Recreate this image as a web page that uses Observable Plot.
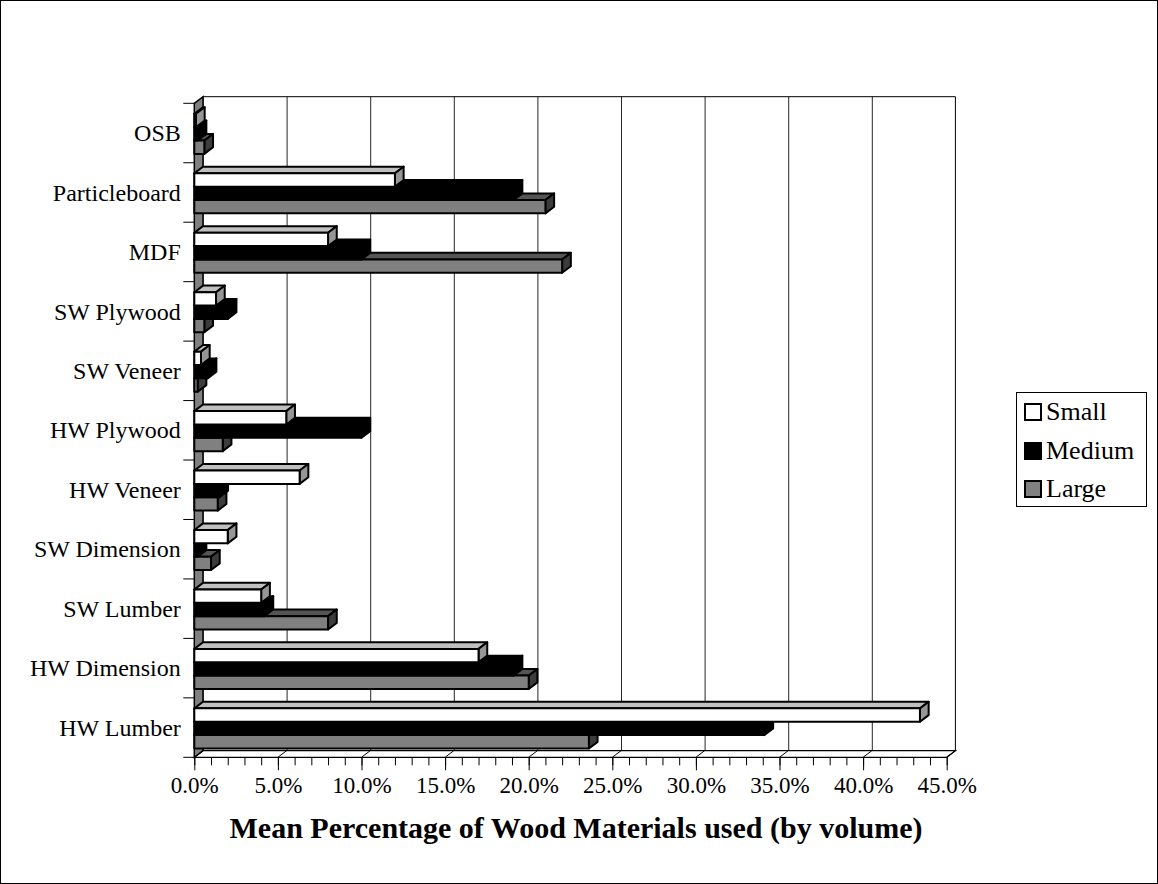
<!DOCTYPE html>
<html>
<head>
<meta charset="utf-8">
<script src="https://cdn.jsdelivr.net/npm/d3@7"></script>
<script src="https://cdn.jsdelivr.net/npm/@observablehq/plot@0.6"></script>
<style>
  html, body { margin: 0; padding: 0; background: #fff; }
  body { position: relative; width: 1158px; height: 884px; font-family: "Liberation Serif", "Times New Roman", serif; color: #000; }
  #border { position: absolute; left: 0; top: 0; width: 1158px; height: 884px; box-sizing: border-box; border: 1px solid #000; }
  #plot { position: absolute; left: 0; top: 0; }
  #legend { position: absolute; left: 1016px; top: 392px; width: 131px; height: 115px; box-sizing: border-box; border: 1px solid #000; background: #fff; }
  .item { position: absolute; left: 7px; height: 30px; display: flex; align-items: center; font-size: 26px; }
  .item svg { margin-right: 4px; }
  #title { position: absolute; left: 0; width: 1152px; top: 811px; text-align: center; font-weight: bold; font-size: 30px; }
</style>
</head>
<body>
<div id="border"></div>
<div id="plot"></div>
<div id="legend"></div>
<div id="title">Mean Percentage of Wood Materials used (by volume)</div>
<script>
// Wood material categories, listed top to bottom
const categories = ["OSB", "Particleboard", "MDF", "SW Plywood", "SW Veneer", "HW Plywood",
  "HW Veneer", "SW Dimension", "SW Lumber", "HW Dimension", "HW Lumber"];
// Mean percentage (by volume) per company size
const small  = [0.1, 12.0, 8.0, 1.3, 0.4, 5.5, 6.3, 2.0, 4.0, 17.0, 43.4];
const medium = [0.2, 19.1, 10.0, 2.0, 0.8, 10.0, 1.5, 0.2, 4.2, 19.1, 34.1];
const large  = [0.6, 21.0, 22.0, 0.6, 0.2, 1.7, 1.4, 1.0, 8.0, 20.0, 23.6];
const seriesNames = ["Small", "Medium", "Large"];
const xTicks = [0, 5, 10, 15, 20, 25, 30, 35, 40, 45];

// face colours of each 3-D bar: front, top, side
const faceColors = {
  Small:  {front: "#ffffff", top: "#c0c0c0", side: "#969696"},
  Medium: {front: "#000000", top: "#000000", side: "#000000"},
  Large:  {front: "#808080", top: "#555555", side: "#3c3c3c"}
};

// plot geometry (front plane) and depth offset of the back wall
const W = 1158, H = 800;
const X0 = 194.3, X1 = 946.7, Y0 = 103.3, Y1 = 757.3;
const DX = 8.7, DY = -6.6;
const BW = (Y1 - Y0) / categories.length;
const OFF = 0.177, BH = 0.2246; // bar offset and height as fractions of a band

const valuesBySeries = [small, medium, large];
const rows = seriesNames.flatMap((name, si) =>
  categories.map((c, i) => ({category: c, series: name, value: valuesBySeries[si][i], s: si})));

const pts = (a) => a.map(p => p.join(",")).join(" ");

// back wall, left wall, floor and category boundary ticks
function walls(index, scales) {
  const g = d3.create("svg:g");
  const xa = scales.x(0), xb = scales.x(45);
  g.append("polygon")
    .attr("points", pts([[xa + DX, Y0 + DY], [xb + DX, Y0 + DY], [xb + DX, Y1 + DY], [xa + DX, Y1 + DY]]))
    .attr("fill", "none").attr("stroke", "#000").attr("stroke-width", 1);
  g.append("polygon")
    .attr("points", pts([[xa, Y1], [xb, Y1], [xb + DX, Y1 + DY], [xa + DX, Y1 + DY]]))
    .attr("fill", "#fff").attr("stroke", "#000").attr("stroke-width", 1.3);
  for (const t of xTicks) {
    const x = scales.x(t);
    g.append("line").attr("x1", x).attr("y1", Y1).attr("x2", x + DX).attr("y2", Y1 + DY)
      .attr("stroke", "#000").attr("stroke-width", 1);
  }
  g.append("polygon")
    .attr("points", pts([[xa, Y0], [xa + DX, Y0 + DY], [xa + DX, Y1 + DY], [xa, Y1]]))
    .attr("fill", "#808080").attr("stroke", "#000").attr("stroke-width", 1.5);
  for (let i = 0; i <= categories.length; ++i) {
    const y = i < categories.length ? scales.y(categories[i]) : Y1;
    g.append("line").attr("x1", xa - 11).attr("x2", xa).attr("y1", y).attr("y2", y)
      .attr("stroke", "#000").attr("stroke-width", 1);
  }
  return g.node();
}

// top and side faces of the bars of one series
function faces(name) {
  const data = rows.filter(d => d.series === name);
  const col = faceColors[name];
  return (index, scales) => {
    const g = d3.create("svg:g").attr("stroke", "#000").attr("stroke-width", 2).attr("stroke-linejoin", "round");
    for (const r of data) {
      const xa = scales.x(0), xb = scales.x(r.value);
      const yt = scales.y(r.category) + BW * (OFF + r.s * BH);
      const yb = yt + BW * BH;
      g.append("polygon").attr("fill", col.top)
        .attr("points", pts([[xa, yt], [xa + DX, yt + DY], [xb + DX, yt + DY], [xb, yt]]));
      g.append("polygon").attr("fill", col.side)
        .attr("points", pts([[xb, yt], [xb + DX, yt + DY], [xb + DX, yb + DY], [xb, yb]]));
    }
    return g.node();
  };
}

function frontBars(name) {
  const si = seriesNames.indexOf(name);
  return Plot.barX(rows.filter(d => d.series === name), {
    x: "value", y: "category",
    fill: faceColors[name].front, stroke: "#000", strokeWidth: 2, strokeLinejoin: "round",
    insetTop: BW * (OFF + si * BH),
    insetBottom: BW - BW * (OFF + (si + 1) * BH)
  });
}

const barMarks = ["Large", "Medium", "Small"].flatMap(name => [faces(name), frontBars(name)]);

const chart = Plot.plot({
  width: W, height: H,
  marginLeft: X0, marginRight: W - X1, marginTop: Y0, marginBottom: H - Y1,
  style: {fontFamily: "'Liberation Serif', 'Times New Roman', serif", fontSize: "22px", background: "transparent", color: "#000", overflow: "visible"},
  x: {domain: [0, 45]},
  y: {domain: categories, padding: 0, round: false},
  marks: [
    Plot.gridX({ticks: xTicks.slice(1, -1), dx: DX, dy: DY, stroke: "#000", strokeOpacity: 0.85, strokeWidth: 1}),
    walls,
    Plot.axisX({ticks: d3.range(0, 46, 1), tickSize: 8, tickFormat: () => "", label: null}),
    Plot.axisX({ticks: xTicks, tickSize: 13, tickPadding: 6, tickFormat: d => d.toFixed(1) + "%", fontSize: 23, label: null}),
    Plot.axisY({tickSize: 0, tickPadding: 14, fontSize: 24, label: null}),
    ...barMarks
  ]
});
document.getElementById("plot").appendChild(chart);

// legend
const legend = document.getElementById("legend");
seriesNames.forEach((name, i) => {
  const item = document.createElement("div");
  item.className = "item";
  item.style.top = (4 + i * 38.5) + "px";
  item.innerHTML = `<svg width="18" height="18"><rect x="1" y="1" width="16" height="16" fill="${faceColors[name].front}" stroke="#000" stroke-width="2"/></svg><span>${name}</span>`;
  legend.appendChild(item);
});
</script>
</body>
</html>
